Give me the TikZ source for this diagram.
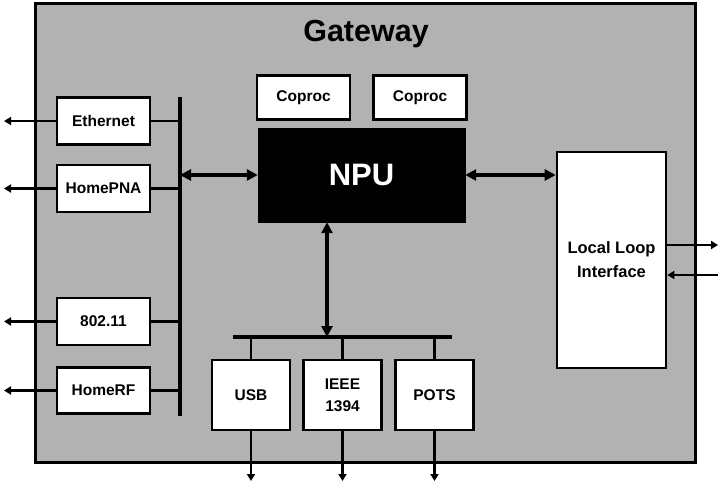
\documentclass[tikz,border=0pt]{standalone}
\usepackage{fontspec}
\setmainfont{Liberation Sans}
\usetikzlibrary{arrows.meta}

\tikzset{
    blockbox/.style={draw, line width=2.6pt, fill=white, align=center,
        inner sep=0pt, font=\fontsize{15.5}{22}\selectfont\bfseries},
    busline/.style={line width=3.6pt},
    tickline/.style={line width=2.4pt},
    outarrow/.style={line width=2.4pt, -{Triangle[length=7pt,width=8pt]}},
    biglink/.style={line width=3.2pt, {Triangle[length=11pt,width=11pt]}-{Triangle[length=11pt,width=11pt]}}
}

\begin{document}
\begin{tikzpicture}[x=1pt,y=-1pt]
    \useasboundingbox (0,0) rectangle (719,486);
    %frame
    \draw[line width=3pt, fill=black!30] (35,4) rectangle (695,462);
    \node[font=\fontsize{30.5}{32}\selectfont\bfseries] (title) at (366,34) {Gateway};

    %left side interfaces
    \node[blockbox, minimum width=93pt, minimum height=47pt] (eth) at (103.5,121) {Ethernet};
    \node[blockbox, minimum width=93pt, minimum height=47pt] (pna) at (103.5,188.5) {HomePNA};
    \node[blockbox, minimum width=93pt, minimum height=47pt] (wlan) at (103.5,321.5) {802.11};
    \node[blockbox, minimum width=93pt, minimum height=46pt] (hrf) at (103.5,390.5) {HomeRF};

    %processor
    \node[blockbox, minimum width=93pt, minimum height=44pt] (cop1) at (303.5,97.5) {Coproc};
    \node[blockbox, minimum width=93pt, minimum height=44pt] (cop2) at (420,97.5) {Coproc};
    \node[draw, fill=black, text=white, minimum width=207pt, minimum height=94pt,
        font=\fontsize{31}{33}\selectfont\bfseries] (npu) at (361.5,175) {NPU};

    %local loop
    \node[blockbox, minimum width=109pt, minimum height=216pt,
        font=\fontsize{16.5}{24}\selectfont\bfseries] (lli) at (611.5,260) {Local Loop\\Interface};

    %bottom interfaces
    \node[blockbox, minimum width=78pt, minimum height=70pt] (usb) at (251,395) {USB};
    \node[blockbox, minimum width=78pt, minimum height=70pt] (ieee) at (342.5,395) {IEEE\\1394};
    \node[blockbox, minimum width=78pt, minimum height=70pt] (pots) at (434.5,395) {POTS};

    %buses
    \coordinate (lbusTop) at (180,97);
    \coordinate (lbusBot) at (180,416);
    \coordinate (bbusL) at (233,337);
    \coordinate (bbusR) at (452,337);
    \draw[busline] (lbusTop) -- (lbusBot);
    \draw[busline] (bbusL) -- (bbusR);

    %outer ends
    \coordinate (outL) at (4,0);
    \coordinate (outB) at (0,481);
    \coordinate (outR) at (718,0);

    \foreach \n in {eth,pna,wlan,hrf}{
        \draw[tickline] (\n.east) -- (\n.east -| lbusTop);
        \draw[outarrow] (\n.west) -- (\n.west -| outL);
    }
    \foreach \n in {usb,ieee,pots}{
        \draw[tickline] (\n.north) -- (\n.north |- bbusL);
        \draw[outarrow] (\n.south) -- (\n.south |- outB);
    }

    %npu links
    \coordinate (npuDn) at (327,337);
    \draw[biglink] (npu.west -| lbusTop) -- (npu.west);
    \draw[biglink] (npu.east) -- (npu.east -| lli.west);
    \draw[biglink] (npuDn |- npu.south) -- (npuDn);

    %line side
    \coordinate (llUp) at ([yshift=15pt]lli.east);
    \coordinate (llDn) at ([yshift=-15pt]lli.east);
    \draw[outarrow] (llUp) -- (llUp -| outR);
    \draw[outarrow] (llDn -| outR) -- (llDn);
\end{tikzpicture}
\end{document}
